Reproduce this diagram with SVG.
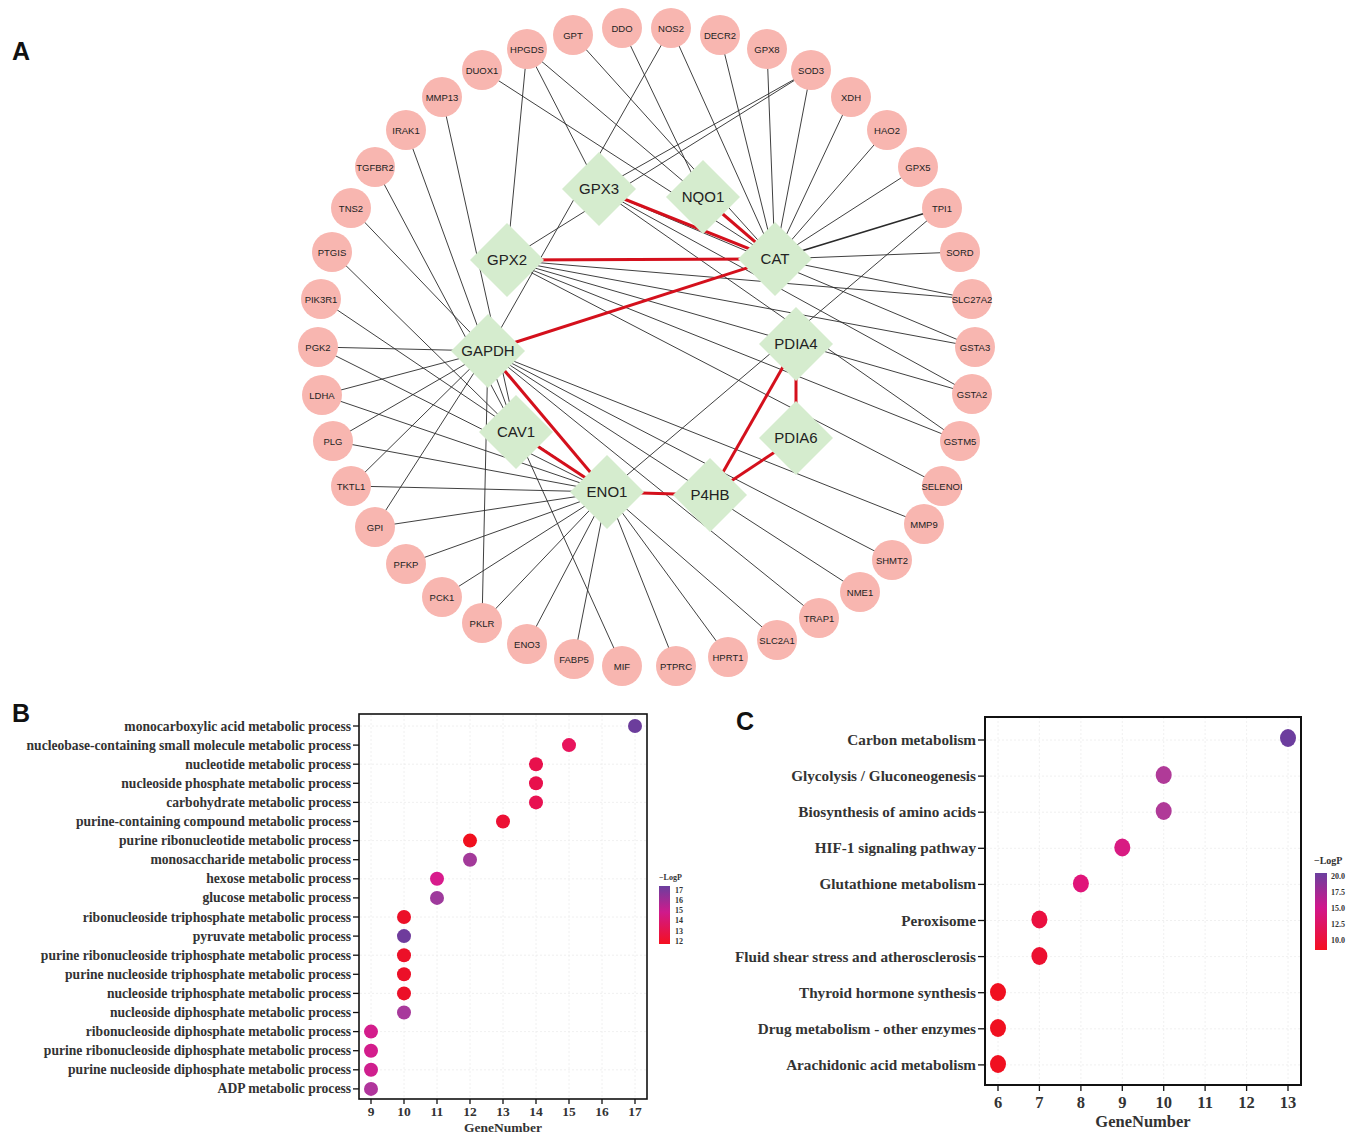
<svg xmlns="http://www.w3.org/2000/svg" width="1358" height="1140" viewBox="0 0 1358 1140">
<defs>
<linearGradient id="gB" x1="0" y1="0" x2="0" y2="1">
<stop offset="0" stop-color="#6b3f9e"/><stop offset="0.45" stop-color="#cf1a8c"/><stop offset="1" stop-color="#f51020"/>
</linearGradient>
<linearGradient id="gC" x1="0" y1="0" x2="0" y2="1">
<stop offset="0" stop-color="#6b3f9e"/><stop offset="0.45" stop-color="#d1168c"/><stop offset="1" stop-color="#f51020"/>
</linearGradient>
</defs>
<style>
.e{stroke:#2a2a2a;stroke-width:0.9;fill:none}
.r{stroke:#d4101c;stroke-width:3;fill:none}
.g circle{fill:#f8b6b0}
.g text{font-family:"Liberation Sans",Arial,sans-serif;font-size:9.5px;fill:#222;text-anchor:middle}
.h polygon{fill:#d5ecce}
.h text{font-family:"Liberation Sans",Arial,sans-serif;font-size:15px;fill:#222;text-anchor:middle}
.pl{font-family:"Liberation Sans",Arial,sans-serif;font-size:25px;font-weight:bold;fill:#111}
.lb{font-family:"Liberation Serif","Times New Roman",serif;font-size:13.6px;font-weight:bold;fill:#333;text-anchor:end}
.lc{font-family:"Liberation Serif","Times New Roman",serif;font-size:15.2px;font-weight:bold;fill:#333;text-anchor:end}
.tb{font-family:"Liberation Serif","Times New Roman",serif;font-size:13.5px;font-weight:bold;fill:#333;text-anchor:middle}
.tc{font-family:"Liberation Serif","Times New Roman",serif;font-size:16.5px;font-weight:bold;fill:#333;text-anchor:middle}
.lg{font-family:"Liberation Serif","Times New Roman",serif;font-size:8px;font-weight:bold;fill:#333}
.lg2{font-family:"Liberation Serif","Times New Roman",serif;font-size:10px;font-weight:bold;fill:#333}
.ax{fill:none;stroke:#111;stroke-width:1.6}
.tk{stroke:#111;stroke-width:1.3}
.grid{stroke:#ececec;stroke-width:0.8;stroke-dasharray:2 2}
</style>
<rect width="1358" height="1140" fill="#ffffff"/>

<text class="pl" x="12" y="60">A</text>
<text class="pl" x="12" y="722">B</text>
<text class="pl" x="736" y="730">C</text>

<g id="connectors">
<line class="e" x1="527" y1="49" x2="507" y2="260"/>
<line class="e" x1="527" y1="49" x2="599" y2="189"/>
<line class="e" x1="527" y1="49" x2="775" y2="259"/>
<line class="e" x1="482" y1="70" x2="775" y2="259"/>
<line class="e" x1="573" y1="35" x2="775" y2="259"/>
<line class="e" x1="622" y1="28" x2="703" y2="197"/>
<line class="e" x1="671" y1="28" x2="488" y2="351"/>
<line class="e" x1="671" y1="28" x2="775" y2="259"/>
<line class="e" x1="720" y1="35" x2="775" y2="259"/>
<line class="e" x1="767" y1="49" x2="775" y2="259"/>
<line class="e" x1="811" y1="70" x2="775" y2="259"/>
<line class="e" x1="811" y1="70" x2="599" y2="189"/>
<line class="e" x1="811" y1="70" x2="507" y2="260"/>
<line class="e" x1="851" y1="97" x2="775" y2="259"/>
<line class="e" x1="887" y1="130" x2="775" y2="259"/>
<line class="e" x1="918" y1="167" x2="775" y2="259"/>
<line class="e" x1="942" y1="208" x2="775" y2="259" style="stroke-width:1.6"/>
<line class="e" x1="942" y1="208" x2="607" y2="492"/>
<line class="e" x1="960" y1="252" x2="775" y2="259"/>
<line class="e" x1="972" y1="299" x2="775" y2="259"/>
<line class="e" x1="972" y1="299" x2="507" y2="260"/>
<line class="e" x1="975" y1="347" x2="507" y2="260"/>
<line class="e" x1="975" y1="347" x2="599" y2="189"/>
<line class="e" x1="972" y1="394" x2="507" y2="260"/>
<line class="e" x1="972" y1="394" x2="599" y2="189"/>
<line class="e" x1="960" y1="441" x2="599" y2="189"/>
<line class="e" x1="960" y1="441" x2="507" y2="260"/>
<line class="e" x1="942" y1="486" x2="507" y2="260"/>
<line class="e" x1="924" y1="524" x2="488" y2="351"/>
<line class="e" x1="892" y1="560" x2="488" y2="351"/>
<line class="e" x1="860" y1="592" x2="488" y2="351"/>
<line class="e" x1="819" y1="618" x2="488" y2="351"/>
<line class="e" x1="777" y1="640" x2="607" y2="492"/>
<line class="e" x1="728" y1="657" x2="607" y2="492"/>
<line class="e" x1="676" y1="666" x2="607" y2="492"/>
<line class="e" x1="622" y1="666" x2="516" y2="432"/>
<line class="e" x1="574" y1="659" x2="607" y2="492"/>
<line class="e" x1="527" y1="644" x2="607" y2="492"/>
<line class="e" x1="482" y1="623" x2="607" y2="492"/>
<line class="e" x1="482" y1="623" x2="488" y2="351"/>
<line class="e" x1="442" y1="597" x2="607" y2="492"/>
<line class="e" x1="406" y1="564" x2="607" y2="492"/>
<line class="e" x1="375" y1="527" x2="607" y2="492"/>
<line class="e" x1="375" y1="527" x2="488" y2="351"/>
<line class="e" x1="351" y1="486" x2="607" y2="492"/>
<line class="e" x1="351" y1="486" x2="488" y2="351"/>
<line class="e" x1="333" y1="441" x2="607" y2="492"/>
<line class="e" x1="333" y1="441" x2="488" y2="351"/>
<line class="e" x1="322" y1="395" x2="488" y2="351"/>
<line class="e" x1="322" y1="395" x2="607" y2="492"/>
<line class="e" x1="318" y1="347" x2="488" y2="351"/>
<line class="e" x1="318" y1="347" x2="607" y2="492"/>
<line class="e" x1="321" y1="299" x2="607" y2="492"/>
<line class="e" x1="332" y1="252" x2="516" y2="432"/>
<line class="e" x1="351" y1="208" x2="488" y2="351"/>
<line class="e" x1="375" y1="167" x2="516" y2="432"/>
<line class="e" x1="406" y1="130" x2="516" y2="432"/>
<line class="e" x1="442" y1="97" x2="516" y2="432"/>
<line class="r" x1="599" y1="189" x2="775" y2="259"/>
<line class="r" x1="703" y1="197" x2="775" y2="259"/>
<line class="r" x1="507" y1="260" x2="775" y2="259"/>
<line class="r" x1="488" y1="351" x2="775" y2="259"/>
<line class="r" x1="488" y1="351" x2="607" y2="492"/>
<line class="r" x1="516" y1="432" x2="607" y2="492"/>
<line class="r" x1="607" y1="492" x2="710" y2="495"/>
<line class="r" x1="710" y1="495" x2="796" y2="344"/>
<line class="r" x1="710" y1="495" x2="796" y2="438"/>
<line class="r" x1="796" y1="344" x2="796" y2="438"/>
</g>

<g class="g">
<g id="n-GPT"><circle cx="573" cy="35" r="20"/><text x="573" y="39">GPT</text></g>
<g id="n-DDO"><circle cx="622" cy="28" r="20"/><text x="622" y="32">DDO</text></g>
<g id="n-NOS2"><circle cx="671" cy="28" r="20"/><text x="671" y="32">NOS2</text></g>
<g id="n-DECR2"><circle cx="720" cy="35" r="20"/><text x="720" y="39">DECR2</text></g>
<g id="n-GPX8"><circle cx="767" cy="49" r="20"/><text x="767" y="53">GPX8</text></g>
<g id="n-SOD3"><circle cx="811" cy="70" r="20"/><text x="811" y="74">SOD3</text></g>
<g id="n-XDH"><circle cx="851" cy="97" r="20"/><text x="851" y="101">XDH</text></g>
<g id="n-HAO2"><circle cx="887" cy="130" r="20"/><text x="887" y="134">HAO2</text></g>
<g id="n-GPX5"><circle cx="918" cy="167" r="20"/><text x="918" y="171">GPX5</text></g>
<g id="n-TPI1"><circle cx="942" cy="208" r="20"/><text x="942" y="212">TPI1</text></g>
<g id="n-SORD"><circle cx="960" cy="252" r="20"/><text x="960" y="256">SORD</text></g>
<g id="n-SLC27A2"><circle cx="972" cy="299" r="20"/><text x="972" y="303">SLC27A2</text></g>
<g id="n-GSTA3"><circle cx="975" cy="347" r="20"/><text x="975" y="351">GSTA3</text></g>
<g id="n-GSTA2"><circle cx="972" cy="394" r="20"/><text x="972" y="398">GSTA2</text></g>
<g id="n-GSTM5"><circle cx="960" cy="441" r="20"/><text x="960" y="445">GSTM5</text></g>
<g id="n-SELENOI"><circle cx="942" cy="486" r="20"/><text x="942" y="490">SELENOI</text></g>
<g id="n-MMP9"><circle cx="924" cy="524" r="20"/><text x="924" y="528">MMP9</text></g>
<g id="n-SHMT2"><circle cx="892" cy="560" r="20"/><text x="892" y="564">SHMT2</text></g>
<g id="n-NME1"><circle cx="860" cy="592" r="20"/><text x="860" y="596">NME1</text></g>
<g id="n-TRAP1"><circle cx="819" cy="618" r="20"/><text x="819" y="622">TRAP1</text></g>
<g id="n-SLC2A1"><circle cx="777" cy="640" r="20"/><text x="777" y="644">SLC2A1</text></g>
<g id="n-HPRT1"><circle cx="728" cy="657" r="20"/><text x="728" y="661">HPRT1</text></g>
<g id="n-PTPRC"><circle cx="676" cy="666" r="20"/><text x="676" y="670">PTPRC</text></g>
<g id="n-MIF"><circle cx="622" cy="666" r="20"/><text x="622" y="670">MIF</text></g>
<g id="n-FABP5"><circle cx="574" cy="659" r="20"/><text x="574" y="663">FABP5</text></g>
<g id="n-ENO3"><circle cx="527" cy="644" r="20"/><text x="527" y="648">ENO3</text></g>
<g id="n-PKLR"><circle cx="482" cy="623" r="20"/><text x="482" y="627">PKLR</text></g>
<g id="n-PCK1"><circle cx="442" cy="597" r="20"/><text x="442" y="601">PCK1</text></g>
<g id="n-PFKP"><circle cx="406" cy="564" r="20"/><text x="406" y="568">PFKP</text></g>
<g id="n-GPI"><circle cx="375" cy="527" r="20"/><text x="375" y="531">GPI</text></g>
<g id="n-TKTL1"><circle cx="351" cy="486" r="20"/><text x="351" y="490">TKTL1</text></g>
<g id="n-PLG"><circle cx="333" cy="441" r="20"/><text x="333" y="445">PLG</text></g>
<g id="n-LDHA"><circle cx="322" cy="395" r="20"/><text x="322" y="399">LDHA</text></g>
<g id="n-PGK2"><circle cx="318" cy="347" r="20"/><text x="318" y="351">PGK2</text></g>
<g id="n-PIK3R1"><circle cx="321" cy="299" r="20"/><text x="321" y="303">PIK3R1</text></g>
<g id="n-PTGIS"><circle cx="332" cy="252" r="20"/><text x="332" y="256">PTGIS</text></g>
<g id="n-TNS2"><circle cx="351" cy="208" r="20"/><text x="351" y="212">TNS2</text></g>
<g id="n-TGFBR2"><circle cx="375" cy="167" r="20"/><text x="375" y="171">TGFBR2</text></g>
<g id="n-IRAK1"><circle cx="406" cy="130" r="20"/><text x="406" y="134">IRAK1</text></g>
<g id="n-MMP13"><circle cx="442" cy="97" r="20"/><text x="442" y="101">MMP13</text></g>
<g id="n-DUOX1"><circle cx="482" cy="70" r="20"/><text x="482" y="74">DUOX1</text></g>
<g id="n-HPGDS"><circle cx="527" cy="49" r="20"/><text x="527" y="53">HPGDS</text></g>
</g>

<g class="h">
<g id="n-GPX3"><polygon points="599,152 636,189 599,226 562,189"/><text x="599" y="194">GPX3</text></g>
<g id="n-NQO1"><polygon points="703,160 740,197 703,234 666,197"/><text x="703" y="202">NQO1</text></g>
<g id="n-CAT"><polygon points="775,222 812,259 775,296 738,259"/><text x="775" y="264">CAT</text></g>
<g id="n-GPX2"><polygon points="507,223 544,260 507,297 470,260"/><text x="507" y="265">GPX2</text></g>
<g id="n-GAPDH"><polygon points="488,314 525,351 488,388 451,351"/><text x="488" y="356">GAPDH</text></g>
<g id="n-PDIA4"><polygon points="796,307 833,344 796,381 759,344"/><text x="796" y="349">PDIA4</text></g>
<g id="n-PDIA6"><polygon points="796,401 833,438 796,475 759,438"/><text x="796" y="443">PDIA6</text></g>
<g id="n-CAV1"><polygon points="516,395 553,432 516,469 479,432"/><text x="516" y="437">CAV1</text></g>
<g id="n-ENO1"><polygon points="607,455 644,492 607,529 570,492"/><text x="607" y="497">ENO1</text></g>
<g id="n-P4HB"><polygon points="710,458 747,495 710,532 673,495"/><text x="710" y="500">P4HB</text></g>
</g>

<g id="panel-B">
<g>
<line class="grid" x1="371" y1="715" x2="371" y2="1099"/><line class="grid" x1="404" y1="715" x2="404" y2="1099"/><line class="grid" x1="437" y1="715" x2="437" y2="1099"/><line class="grid" x1="470" y1="715" x2="470" y2="1099"/><line class="grid" x1="503" y1="715" x2="503" y2="1099"/><line class="grid" x1="536" y1="715" x2="536" y2="1099"/><line class="grid" x1="569" y1="715" x2="569" y2="1099"/><line class="grid" x1="602" y1="715" x2="602" y2="1099"/><line class="grid" x1="635" y1="715" x2="635" y2="1099"/>
<line class="grid" x1="360" y1="726" x2="647" y2="726"/><line class="grid" x1="360" y1="764.2" x2="647" y2="764.2"/><line class="grid" x1="360" y1="802.4" x2="647" y2="802.4"/><line class="grid" x1="360" y1="840.6" x2="647" y2="840.6"/><line class="grid" x1="360" y1="878.8" x2="647" y2="878.8"/><line class="grid" x1="360" y1="917" x2="647" y2="917"/><line class="grid" x1="360" y1="955.2" x2="647" y2="955.2"/><line class="grid" x1="360" y1="993.4" x2="647" y2="993.4"/><line class="grid" x1="360" y1="1031.6" x2="647" y2="1031.6"/><line class="grid" x1="360" y1="1069.8" x2="647" y2="1069.8"/>
</g>
<rect class="ax" x="359" y="714" width="288" height="385"/>
<g class="tk">
<line x1="353" y1="726" x2="359" y2="726"/><line x1="353" y1="745.1" x2="359" y2="745.1"/><line x1="353" y1="764.2" x2="359" y2="764.2"/><line x1="353" y1="783.3" x2="359" y2="783.3"/><line x1="353" y1="802.4" x2="359" y2="802.4"/><line x1="353" y1="821.5" x2="359" y2="821.5"/><line x1="353" y1="840.6" x2="359" y2="840.6"/><line x1="353" y1="859.7" x2="359" y2="859.7"/><line x1="353" y1="878.8" x2="359" y2="878.8"/><line x1="353" y1="897.9" x2="359" y2="897.9"/><line x1="353" y1="917" x2="359" y2="917"/><line x1="353" y1="936.1" x2="359" y2="936.1"/><line x1="353" y1="955.2" x2="359" y2="955.2"/><line x1="353" y1="974.3" x2="359" y2="974.3"/><line x1="353" y1="993.4" x2="359" y2="993.4"/><line x1="353" y1="1012.5" x2="359" y2="1012.5"/><line x1="353" y1="1031.6" x2="359" y2="1031.6"/><line x1="353" y1="1050.7" x2="359" y2="1050.7"/><line x1="353" y1="1069.8" x2="359" y2="1069.8"/><line x1="353" y1="1088.9" x2="359" y2="1088.9"/>
<line x1="371" y1="1099" x2="371" y2="1104"/><line x1="404" y1="1099" x2="404" y2="1104"/><line x1="437" y1="1099" x2="437" y2="1104"/><line x1="470" y1="1099" x2="470" y2="1104"/><line x1="503" y1="1099" x2="503" y2="1104"/><line x1="536" y1="1099" x2="536" y2="1104"/><line x1="569" y1="1099" x2="569" y2="1104"/><line x1="602" y1="1099" x2="602" y2="1104"/><line x1="635" y1="1099" x2="635" y2="1104"/>
</g>
<text class="lb" x="351" y="730.5">monocarboxylic acid metabolic process</text>
<text class="lb" x="351" y="749.6">nucleobase-containing small molecule metabolic process</text>
<text class="lb" x="351" y="768.7">nucleotide metabolic process</text>
<text class="lb" x="351" y="787.8">nucleoside phosphate metabolic process</text>
<text class="lb" x="351" y="806.9">carbohydrate metabolic process</text>
<text class="lb" x="351" y="826">purine-containing compound metabolic process</text>
<text class="lb" x="351" y="845.1">purine ribonucleotide metabolic process</text>
<text class="lb" x="351" y="864.2">monosaccharide metabolic process</text>
<text class="lb" x="351" y="883.3">hexose metabolic process</text>
<text class="lb" x="351" y="902.4">glucose metabolic process</text>
<text class="lb" x="351" y="921.5">ribonucleoside triphosphate metabolic process</text>
<text class="lb" x="351" y="940.6">pyruvate metabolic process</text>
<text class="lb" x="351" y="959.7">purine ribonucleoside triphosphate metabolic process</text>
<text class="lb" x="351" y="978.8">purine nucleoside triphosphate metabolic process</text>
<text class="lb" x="351" y="997.9">nucleoside triphosphate metabolic process</text>
<text class="lb" x="351" y="1017">nucleoside diphosphate metabolic process</text>
<text class="lb" x="351" y="1036.1">ribonucleoside diphosphate metabolic process</text>
<text class="lb" x="351" y="1055.2">purine ribonucleoside diphosphate metabolic process</text>
<text class="lb" x="351" y="1074.3">purine nucleoside diphosphate metabolic process</text>
<text class="lb" x="351" y="1093.4">ADP metabolic process</text>
<g>
<circle cx="635" cy="726" r="7" fill="#6c3d9c"/>
<circle cx="569" cy="745.1" r="7" fill="#e8145c"/>
<circle cx="536" cy="764.2" r="7" fill="#e8104c"/>
<circle cx="536" cy="783.3" r="7" fill="#e8104c"/>
<circle cx="536" cy="802.4" r="7" fill="#e81252"/>
<circle cx="503" cy="821.5" r="7" fill="#ec1034"/>
<circle cx="470" cy="840.6" r="7" fill="#f0101e"/>
<circle cx="470" cy="859.7" r="7" fill="#a33a9a"/>
<circle cx="437" cy="878.8" r="7" fill="#d81b8c"/>
<circle cx="437" cy="897.9" r="7" fill="#9e3a9c"/>
<circle cx="404" cy="917" r="7" fill="#ec1028"/>
<circle cx="404" cy="936.1" r="7" fill="#6f3c9c"/>
<circle cx="404" cy="955.2" r="7" fill="#ec1028"/>
<circle cx="404" cy="974.3" r="7" fill="#ec1028"/>
<circle cx="404" cy="993.4" r="7" fill="#ec1028"/>
<circle cx="404" cy="1012.5" r="7" fill="#a83a9c"/>
<circle cx="371" cy="1031.6" r="7" fill="#d31d8c"/>
<circle cx="371" cy="1050.7" r="7" fill="#d31d8c"/>
<circle cx="371" cy="1069.8" r="7" fill="#cf1f8e"/>
<circle cx="371" cy="1088.9" r="7" fill="#b0359c"/>
</g>
<text class="tb" x="371" y="1116">9</text><text class="tb" x="404" y="1116">10</text><text class="tb" x="437" y="1116">11</text><text class="tb" x="470" y="1116">12</text><text class="tb" x="503" y="1116">13</text><text class="tb" x="536" y="1116">14</text><text class="tb" x="569" y="1116">15</text><text class="tb" x="602" y="1116">16</text><text class="tb" x="635" y="1116">17</text>
<text class="tb" x="503" y="1132">GeneNumber</text>
<text class="lg" x="659" y="880">−LogP</text>
<rect x="659" y="886" width="11" height="58" fill="url(#gB)"/>
<text class="lg" x="675" y="893">17</text><text class="lg" x="675" y="903">16</text><text class="lg" x="675" y="913">15</text><text class="lg" x="675" y="923">14</text><text class="lg" x="675" y="934">13</text><text class="lg" x="675" y="944">12</text>
</g>

<g id="panel-C">
<g>
<line class="grid" x1="998" y1="717" x2="998" y2="1085"/><line class="grid" x1="1039.4" y1="717" x2="1039.4" y2="1085"/><line class="grid" x1="1080.9" y1="717" x2="1080.9" y2="1085"/><line class="grid" x1="1122.3" y1="717" x2="1122.3" y2="1085"/><line class="grid" x1="1163.7" y1="717" x2="1163.7" y2="1085"/><line class="grid" x1="1205.1" y1="717" x2="1205.1" y2="1085"/><line class="grid" x1="1246.6" y1="717" x2="1246.6" y2="1085"/><line class="grid" x1="1288" y1="717" x2="1288" y2="1085"/>
<line class="grid" x1="986" y1="740" x2="1301" y2="740"/><line class="grid" x1="986" y1="776.1" x2="1301" y2="776.1"/><line class="grid" x1="986" y1="812.2" x2="1301" y2="812.2"/><line class="grid" x1="986" y1="848.3" x2="1301" y2="848.3"/><line class="grid" x1="986" y1="884.4" x2="1301" y2="884.4"/><line class="grid" x1="986" y1="920.5" x2="1301" y2="920.5"/><line class="grid" x1="986" y1="956.6" x2="1301" y2="956.6"/><line class="grid" x1="986" y1="992.7" x2="1301" y2="992.7"/><line class="grid" x1="986" y1="1028.8" x2="1301" y2="1028.8"/><line class="grid" x1="986" y1="1064.9" x2="1301" y2="1064.9"/>
</g>
<rect class="ax" x="985" y="717" width="316" height="368" style="stroke-width:2"/>
<g class="tk">
<line x1="978" y1="740" x2="985" y2="740"/><line x1="978" y1="776.1" x2="985" y2="776.1"/><line x1="978" y1="812.2" x2="985" y2="812.2"/><line x1="978" y1="848.3" x2="985" y2="848.3"/><line x1="978" y1="884.4" x2="985" y2="884.4"/><line x1="978" y1="920.5" x2="985" y2="920.5"/><line x1="978" y1="956.6" x2="985" y2="956.6"/><line x1="978" y1="992.7" x2="985" y2="992.7"/><line x1="978" y1="1028.8" x2="985" y2="1028.8"/><line x1="978" y1="1064.9" x2="985" y2="1064.9"/>
<line x1="998" y1="1085" x2="998" y2="1091"/><line x1="1039.4" y1="1085" x2="1039.4" y2="1091"/><line x1="1080.9" y1="1085" x2="1080.9" y2="1091"/><line x1="1122.3" y1="1085" x2="1122.3" y2="1091"/><line x1="1163.7" y1="1085" x2="1163.7" y2="1091"/><line x1="1205.1" y1="1085" x2="1205.1" y2="1091"/><line x1="1246.6" y1="1085" x2="1246.6" y2="1091"/><line x1="1288" y1="1085" x2="1288" y2="1091"/>
</g>
<text class="lc" x="976" y="745">Carbon metabolism</text>
<text class="lc" x="976" y="781.1">Glycolysis / Gluconeogenesis</text>
<text class="lc" x="976" y="817.2">Biosynthesis of amino acids</text>
<text class="lc" x="976" y="853.3">HIF-1 signaling pathway</text>
<text class="lc" x="976" y="889.4">Glutathione metabolism</text>
<text class="lc" x="976" y="925.5">Peroxisome</text>
<text class="lc" x="976" y="961.6">Fluid shear stress and atherosclerosis</text>
<text class="lc" x="976" y="997.7">Thyroid hormone synthesis</text>
<text class="lc" x="976" y="1033.8">Drug metabolism - other enzymes</text>
<text class="lc" x="976" y="1069.9">Arachidonic acid metabolism</text>
<g>
<ellipse cx="1288" cy="738" rx="8" ry="9" fill="#6c3d9e"/>
<ellipse cx="1163.7" cy="775" rx="8" ry="9" fill="#b03a98"/>
<ellipse cx="1163.7" cy="811" rx="8" ry="9" fill="#b03a98"/>
<ellipse cx="1122.3" cy="847.5" rx="8" ry="9" fill="#d81b82"/>
<ellipse cx="1080.9" cy="883.5" rx="8" ry="9" fill="#e0157a"/>
<ellipse cx="1039.4" cy="919.5" rx="8" ry="9" fill="#ea1040"/>
<ellipse cx="1039.4" cy="956" rx="8" ry="9" fill="#ec1030"/>
<ellipse cx="998" cy="992" rx="8" ry="9" fill="#f01020"/>
<ellipse cx="998" cy="1028" rx="8" ry="9" fill="#f01020"/>
<ellipse cx="998" cy="1064" rx="8" ry="9" fill="#f01020"/>
</g>
<text class="tc" x="998" y="1108">6</text><text class="tc" x="1039.4" y="1108">7</text><text class="tc" x="1080.9" y="1108">8</text><text class="tc" x="1122.3" y="1108">9</text><text class="tc" x="1163.7" y="1108">10</text><text class="tc" x="1205.1" y="1108">11</text><text class="tc" x="1246.6" y="1108">12</text><text class="tc" x="1288" y="1108">13</text>
<text class="tc" x="1143" y="1127">GeneNumber</text>
<text class="lg2" x="1314" y="864">−LogP</text>
<rect x="1315" y="873" width="12" height="77" fill="url(#gC)"/>
<text class="lg" x="1331" y="879">20.0</text><text class="lg" x="1331" y="895">17.5</text><text class="lg" x="1331" y="911">15.0</text><text class="lg" x="1331" y="927">12.5</text><text class="lg" x="1331" y="943">10.0</text>
</g>
</svg>
